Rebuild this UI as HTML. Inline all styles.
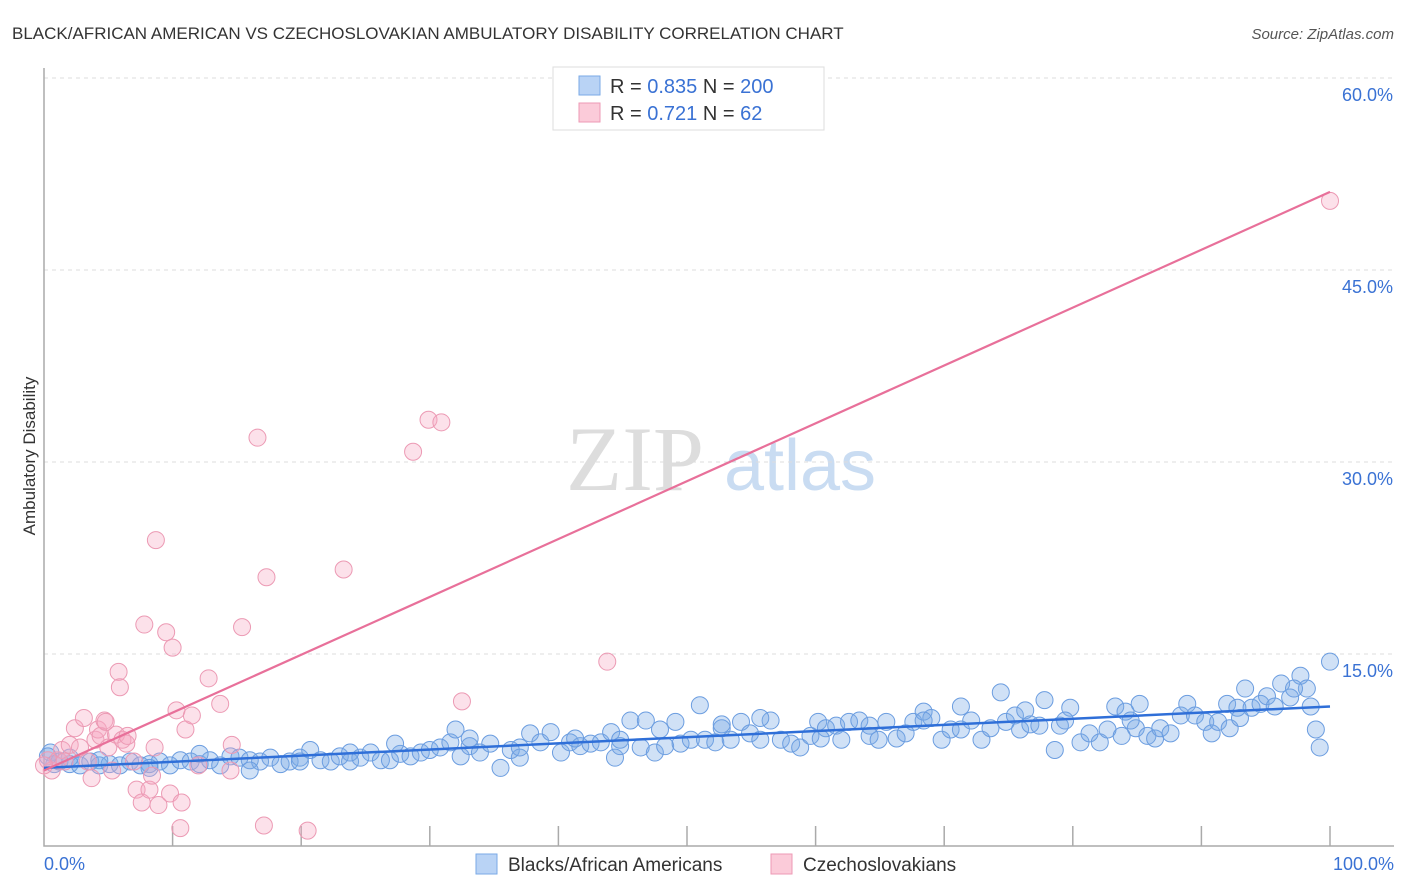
<!DOCTYPE html>
<html><head><meta charset="utf-8"><style>
body{margin:0;background:#fff;font-family:"Liberation Sans",sans-serif;}
#wrap{position:relative;width:1406px;height:892px;overflow:hidden;}
</style></head><body>
<div id="wrap">
<svg id="svg" width="1406" height="892" xmlns="http://www.w3.org/2000/svg">
<text x="12" y="39" font-size="17" fill="#333">BLACK/AFRICAN AMERICAN VS CZECHOSLOVAKIAN AMBULATORY DISABILITY CORRELATION CHART</text>
<text x="1394" y="39" font-size="15" fill="#555" font-style="italic" text-anchor="end">Source: ZipAtlas.com</text>
<text x="35" y="456" font-size="17" fill="#333" text-anchor="middle" transform="rotate(-90 35 456)">Ambulatory Disability</text>
<g><text x="635" y="490" font-size="92" fill="#ddd" font-family="Liberation Serif" text-anchor="middle">ZIP</text><text x="800" y="490" font-size="72" fill="#c9dcf2" text-anchor="middle">atlas</text></g>
<g id="grid"></g><g id="axes"></g><g id="pts"></g><g id="lines"></g>
<g>
<rect x="553" y="67" width="271" height="63" fill="#fff" stroke="#ddd"/>
<rect x="579" y="76" width="21" height="19" fill="#b9d3f5" stroke="#7aa9e6"/>
<rect x="579" y="103" width="21" height="19" fill="#fbcbd9" stroke="#ee9ab5"/>
<text x="610" y="93" font-size="20" fill="#333">R = <tspan fill="#3a72d4">0.835</tspan>   N = <tspan fill="#3a72d4">200</tspan></text>
<text x="610" y="120" font-size="20" fill="#333">R =  <tspan fill="#3a72d4">0.721</tspan>   N =    <tspan fill="#3a72d4">62</tspan></text>
</g>
<g>
<rect x="476" y="854" width="21" height="20" fill="#b9d3f5" stroke="#7aa9e6"/>
<text x="508" y="871" font-size="19" fill="#333">Blacks/African Americans</text>
<rect x="771" y="854" width="21" height="20" fill="#fbcbd9" stroke="#ee9ab5"/>
<text x="803" y="871" font-size="19" fill="#333">Czechoslovakians</text>
</g>
</svg>
</div>
<script>
const yTicks=[15,30,45,60];
const yTickLabels=["15.0%","30.0%","45.0%","60.0%"];
const xTicks=[0,10,20,30,40,50,60,70,80,90,100];
const xEndLabels=["0.0%","100.0%"];
const blueX=[0.5,1.2,2.0,2.8,3.6,4.3,5.1,5.9,6.7,7.5,8.2,9.0,9.8,10.6,11.4,12.1,12.9,13.7,14.5,15.2,16.0,16.8,17.6,18.4,19.1,19.9,20.7,21.5,22.3,23.0,23.8,24.6,25.4,26.2,26.9,27.7,28.5,29.3,30.0,30.8,31.6,32.0,32.4,33.1,33.9,34.7,35.5,36.3,37.0,37.8,38.6,39.4,40.2,40.9,41.7,42.5,43.3,44.1,44.4,44.8,45.6,46.4,46.8,47.5,48.3,49.1,49.5,50.3,51.0,51.4,52.2,52.7,53.4,54.2,54.9,55.7,56.5,57.3,58.1,58.8,59.6,60.2,60.8,61.6,62.0,62.6,63.4,64.2,64.9,65.5,66.3,67.0,67.6,68.4,69.0,69.8,70.5,71.3,72.1,72.9,73.6,74.4,74.8,75.5,75.9,76.7,77.4,77.8,78.6,79.0,79.8,80.6,81.3,82.1,82.7,83.3,84.1,84.9,85.2,85.8,86.4,86.8,87.6,88.4,88.9,89.5,90.3,90.8,91.3,92.0,92.8,93.4,93.9,94.6,95.1,95.7,96.2,96.9,97.7,98.2,98.5,98.9,99.2,100.0,97.2,92.2,83.8,79.4,71.3,64.2,55.7,47.9,41.3,33.1,27.3,23.8,19.9,16.0,12.1,8.2,4.3,2.0,0.8,0.3,37.0,44.8,52.7,60.4,68.4,76.3,84.5,93.0];
const blueY=[7.3,6.6,6.4,6.3,6.6,6.3,6.4,6.3,6.6,6.3,6.4,6.6,6.3,6.7,6.6,6.4,6.7,6.3,7.0,6.9,6.7,6.6,6.9,6.4,6.6,6.9,7.5,6.7,6.6,7.0,6.6,6.9,7.3,6.7,6.7,7.2,7.0,7.3,7.5,7.7,8.1,9.1,7.0,7.8,7.3,8.0,6.1,7.5,6.9,8.8,8.1,8.9,7.3,8.1,7.8,8.0,8.1,8.9,6.9,8.3,9.8,7.7,9.8,7.3,7.8,9.7,8.0,8.3,11.0,8.3,8.1,9.2,8.3,9.7,8.8,8.3,9.8,8.3,8.0,7.7,8.6,9.7,9.2,9.4,8.3,9.7,9.8,8.6,8.3,9.7,8.4,8.8,9.7,10.5,10.0,8.3,9.1,9.1,9.8,8.3,9.2,12.0,9.7,10.2,9.1,9.5,9.4,11.4,7.5,9.4,10.8,8.1,8.8,8.1,9.1,10.9,10.5,9.2,11.1,8.6,8.4,9.2,8.8,10.2,11.1,10.2,9.7,8.8,9.7,11.1,10.8,12.3,10.8,11.1,11.7,10.9,12.7,11.6,13.3,12.3,10.9,9.1,7.7,14.4,12.3,9.2,8.6,9.8,10.9,9.4,10.0,9.1,8.4,8.4,8.0,7.3,6.6,5.9,7.2,6.1,6.7,6.9,6.4,7.0,7.7,7.8,9.5,8.4,9.8,10.6,9.8,10.0];
const pinkX=[0.3,0.6,1.1,1.4,1.6,2.0,2.4,2.8,3.1,3.4,3.7,4.0,4.2,4.4,4.7,5.0,5.3,5.6,6.1,6.4,7.0,7.2,7.6,7.8,8.2,8.4,8.6,8.7,8.9,9.5,9.8,10.0,10.3,10.6,10.7,11.0,11.5,12.0,12.8,13.7,14.6,14.5,15.4,16.6,17.1,17.3,20.5,23.3,28.7,29.9,30.9,32.5,43.8,100,5.8,5.9,0,6.5,4.8];
const pinkY=[6.7,5.9,6.7,7.5,6.6,7.9,9.2,7.7,10.0,6.6,5.3,8.3,9.1,8.6,9.8,7.7,5.9,8.7,8.3,8.0,6.6,4.4,3.4,17.3,4.4,5.5,7.7,23.9,3.2,16.7,4.1,15.5,10.6,1.4,3.4,9.1,10.2,6.3,13.1,11.1,7.9,5.9,17.1,31.9,1.6,21.0,1.2,21.6,30.8,33.3,33.1,11.3,14.4,50.4,13.6,12.4,6.3,8.6,9.7];
const blueTrend=[6.1,10.9];
const pinkTrend=[5.9,51.1];
const X=v=>44+v*12.86, Y=v=>846-v*12.8;
const NS="http://www.w3.org/2000/svg";
function mk(t,a,p){const e=document.createElementNS(NS,t);for(const k in a)e.setAttribute(k,a[k]);p.appendChild(e);return e;}
const grid=document.getElementById('grid'),axes=document.getElementById('axes'),pts=document.getElementById('pts'),lines=document.getElementById('lines');
yTicks.forEach((t,i)=>{
 const l=mk('line',{x1:44,x2:1394,y1:Y(t),y2:Y(t),stroke:'#ddd','stroke-dasharray':'4 4'},grid);
 
 
 const tx=mk('text',{x:1393,y:Y(t)+23,'font-size':18,fill:'#3a72d4','text-anchor':'end'},axes);
 tx.textContent=yTickLabels[i];
 
 
});
const ax=mk('path',{d:'M44 68V846H1394',fill:'none',stroke:'#aaa','stroke-width':1.5},axes);


xTicks.forEach(t=>{if(t===0)return;
 const l=mk('line',{x1:X(t),x2:X(t),y1:826,y2:846,stroke:'#aaa','stroke-width':1.5},axes);
 
 
});
[[0,'start',44],[100,'end',1394]].forEach((a,i)=>{
 const tx=mk('text',{x:a[2],y:870,'font-size':18,fill:'#3a72d4','text-anchor':a[1]},axes);
 tx.textContent=xEndLabels[i];
 
 
});
blueX.forEach((x,i)=>{
 const c=mk('circle',{cx:X(x),cy:Y(blueY[i]),r:8.5,fill:'rgba(120,170,230,0.35)',stroke:'#6b9de0','stroke-width':1},pts);
 
 
});
pinkX.forEach((x,i)=>{
 const c=mk('circle',{cx:X(x),cy:Y(pinkY[i]),r:8.5,fill:'rgba(245,170,195,0.35)',stroke:'#ec9ab4','stroke-width':1},pts);
 
 
});
const bl=mk('line',{x1:X(0),x2:X(100),y1:Y(blueTrend[0]),y2:Y(blueTrend[1]),stroke:'#2f6fd8','stroke-width':2.5},lines);


const pl=mk('line',{x1:X(0),x2:X(100),y1:Y(pinkTrend[0]),y2:Y(pinkTrend[1]),stroke:'#e8709a','stroke-width':2.2},lines);


</script>
</body></html>
